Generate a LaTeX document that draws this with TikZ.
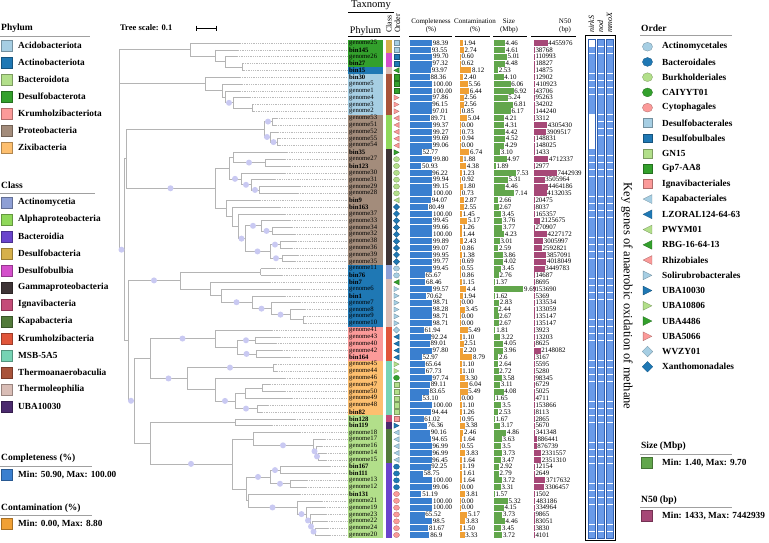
\documentclass[tikz,border=0pt]{standalone}
\usepackage{fontspec}
\setmainfont{Liberation Serif}
\definecolor{pAci}{HTML}{A6CEE3}\definecolor{pAct}{HTML}{1F78B4}\definecolor{pBac}{HTML}{B2DF8A}
\definecolor{pDes}{HTML}{33A02C}\definecolor{pKru}{HTML}{FB9A99}\definecolor{pPro}{HTML}{A38C7B}
\definecolor{pZix}{HTML}{FDBF6F}
\definecolor{cAct}{HTML}{8E9FD5}\definecolor{cAlp}{HTML}{8FD85A}\definecolor{cBac}{HTML}{6A44CC}
\definecolor{cDsb}{HTML}{D6B04A}\definecolor{cDbu}{HTML}{D44FCB}\definecolor{cGam}{HTML}{3E3436}
\definecolor{cIgn}{HTML}{C44C78}\definecolor{cKap}{HTML}{527A3A}\definecolor{cKru}{HTML}{E0553A}
\definecolor{cMSB}{HTML}{76D3B4}\definecolor{cTha}{HTML}{A8533A}\definecolor{cThl}{HTML}{D9BDB6}
\definecolor{cUBA}{HTML}{4B2A6E}
\definecolor{oLB}{HTML}{A6CEE3}\definecolor{oDB}{HTML}{1F78B4}\definecolor{oLG}{HTML}{B2DF8A}
\definecolor{oG}{HTML}{33A02C}\definecolor{oPK}{HTML}{FB9A99}
\definecolor{cpc}{HTML}{3A7FCF}\definecolor{ctc}{HTML}{F0A035}\definecolor{szc}{HTML}{62A64C}
\definecolor{nfc}{HTML}{A64877}\definecolor{hm}{HTML}{6A9BE8}\definecolor{hmd}{HTML}{2F5FB0}
\definecolor{trg}{HTML}{B4B4B4}\definecolor{bsc}{HTML}{C9C9F2}\definecolor{ulc}{HTML}{A0A0A0}
\def\osz{2.6}
\newcommand\osymc[3]{\filldraw[fill=#1,draw=#1!70!black,line width=.3pt] (#2,#3) ellipse [x radius=1.15*\osz pt, y radius=\osz pt];}
\newcommand\osyms[3]{\filldraw[fill=#1,draw=#1!70!black,line width=.3pt] ({#2-\osz},{#3-\osz}) rectangle ({#2+\osz},{#3+\osz});}
\newcommand\osyml[3]{\filldraw[fill=#1,draw=#1!70!black,line width=.3pt] ({#2-\osz},#3) -- ({#2+\osz},{#3-\osz}) -- ({#2+\osz},{#3+\osz}) -- cycle;}
\newcommand\osymr[3]{\filldraw[fill=#1,draw=#1!70!black,line width=.3pt] ({#2+\osz},#3) -- ({#2-\osz},{#3-\osz}) -- ({#2-\osz},{#3+\osz}) -- cycle;}
\newcommand\osymd[3]{\filldraw[fill=#1,draw=#1!70!black,line width=.3pt] (#2,{#3-1.2*\osz}) -- ({#2+1.2*\osz},#3) -- (#2,{#3+1.2*\osz}) -- ({#2-1.2*\osz},#3) -- cycle;}
\newcommand\ry[1]{(36.1667+6.8333*(#1))}
\newcommand\TTip[3]{\expandafter\xdef\csname TX#1\endcsname{#2}\expandafter\xdef\csname TY#1\endcsname{#3}%
  \draw[lead] (#2,{\ry{#3}}) -- (347,{\ry{#3}});}
\newcommand\TNode[3]{\xdef\ymn{1000}\xdef\ymx{-1000}%
  \foreach \ch in {#3}{\xdef\cy{\csname TY\ch\endcsname}\xdef\cx{\csname TX\ch\endcsname}%
    \expandafter\xdef\csname PX\ch\endcsname{#2}%
    \draw[br] (#2,{\ry{\cy}}) -- (\cx,{\ry{\cy}});%
    \xdef\ymn{\fpeval{min(\ymn,\cy)}}\xdef\ymx{\fpeval{max(\ymx,\cy)}}}%
  \draw[br] (#2,{\ry{\ymn}}) -- (#2,{\ry{\ymx}});%
  \expandafter\xdef\csname TX#1\endcsname{#2}%
  \expandafter\xdef\csname TY#1\endcsname{\fpeval{(\ymn+\ymx)/2}}}
\newcommand\TBoot[1]{\fill[bsc] ({(\csname TX#1\endcsname+\csname PX#1\endcsname)/2},{\ry{\csname TY#1\endcsname}}) circle (3pt);}
\begin{document}
\begin{tikzpicture}[x=1pt,y=-1pt,
  br/.style={draw=trg,line width=.6pt},
  lead/.style={draw=trg!90,line width=.35pt,dash pattern=on .5pt off 1.3pt},
  ul/.style={draw=ulc,line width=.5pt},
  lgh/.style={font=\fontsize{9.5}{10}\selectfont\bfseries,inner sep=0pt},
  lgt/.style={font=\fontsize{9.3}{10}\selectfont\bfseries,inner sep=0pt},
  val/.style={font=\fontsize{6.9}{7}\selectfont,inner sep=0pt,anchor=west},
  lab/.style={font=\fontsize{6.7}{7}\selectfont,inner sep=0pt,anchor=west},
  hdr/.style={font=\fontsize{7}{7}\selectfont,inner sep=0pt}]
\useasboundingbox (0,0) rectangle (769,542);
\fill[white] (0,0) rectangle (769,542);
% ---------------- tree ----------------
\foreach \r/\x in {1/240,2/238,3/237,4/243,5/244,6/240,7/242,8/240,9/250,10/253,11/254,12/277,13/276,14/278,15/280,16/280,17/287,18/285,19/290,20/285,21/275,22/300,23/298,24/260,25/280,26/285,27/290,28/292,29/295,30/296,31/292,32/298,33/295,34/275,35/282,36/270,37/300,38/285,39/300,40/305,41/305,42/306,43/272,44/280,45/276,46/282,47/290,48/276,49/277,50/285,51/270,52/285,53/292,54/268,55/262,56/295,57/272,58/300,59/325,60/322,61/326,62/326,63/330,64/330,65/307,66/306,67/300,68/322,69/325,70/326,71/327,72/328,73/330}{\TTip{t\r}{\x}{\r}}
\TNode{a45}{242}{t4,t5}\TNode{a35}{225}{t3,a45}\TNode{a25}{215}{t2,a35}\TNode{A}{190}{t1,a25}
\TNode{b1011}{252}{t10,t11}\TNode{b911}{233}{t9,b1011}\TNode{b811}{225}{t8,b911}\TNode{b711}{222}{t7,b811}\TNode{B}{205}{t6,b711}
\TNode{al1}{272}{t12,t13}\TNode{al4}{277}{t15,t16}\TNode{al3}{270}{t14,al4}\TNode{C}{264}{al1,al3}
\TNode{g1819}{265}{t18,t19}\TNode{g1719}{233}{t17,g1819}
\TNode{d22}{259}{t22,t23}\TNode{d21}{251}{t21,d22}\TNode{d20}{241}{t20,d21}\TNode{g1723}{229}{g1719,d20}
\TNode{x2829}{272}{t28,t29}\TNode{x2729}{261}{t27,x2829}\TNode{x3031}{280}{t30,t31}\TNode{x3233}{282}{t32,t33}\TNode{x3033}{270}{x3031,x3233}
\TNode{x2733}{245}{x2729,x3033}\TNode{x2633}{238}{t26,x2733}\TNode{x2533}{232}{t25,x2633}\TNode{g2433}{226}{t24,x2533}
\TNode{D}{215}{g1723,g2433}\TNode{P}{126}{C,D}
\TNode{e3435}{260.7}{t34,t35}\TNode{e4142}{303}{t41,t42}\TNode{e4042}{290}{t40,e4142}\TNode{e3942}{271}{t39,e4042}\TNode{e3842}{252}{t38,e3942}\TNode{e3742}{221}{t37,e3842}\TNode{e3642}{210}{t36,e3742}\TNode{E}{180}{e3435,e3642}
\TNode{k4445}{255}{t44,t45}\TNode{k4647}{256}{t46,t47}\TNode{k4447}{237}{k4445,k4647}\TNode{K}{215}{t43,k4447}
\TNode{z4849}{273}{t48,t49}\TNode{z5455}{257}{t54,t55}\TNode{z5152}{262}{t51,t52}\TNode{z5153}{245}{z5152,t53}\TNode{z5155}{235}{z5153,z5455}\TNode{z5055}{215}{t50,z5155}\TNode{Z}{187}{z4849,z5055}
\TNode{KZ}{150}{K,Z}
\TNode{h5657}{235}{t56,t57}
\TNode{k3}{318}{t61,t62}\TNode{k2}{316}{t60,k3}\TNode{k1}{313}{t59,k2}\TNode{k0}{253}{t58,k1}
\TNode{b6364}{280}{t63,t64}\TNode{b6566}{290}{t65,t66}\TNode{b6366}{270}{b6364,b6566}
\TNode{c7273}{315}{t72,t73}\TNode{c7173}{312}{t71,c7273}\TNode{c7073}{310}{t70,c7173}\TNode{c6973}{306}{t69,c7073}\TNode{c6873}{297}{t68,c6973}\TNode{c6773}{248}{t67,c6873}
\TNode{Bact}{246}{b6366,c6773}\TNode{Kb}{232}{k0,Bact}\TNode{Bd}{150}{h5657,Kb}
\TNode{L}{134}{KZ,Bd}\TNode{R}{128}{E,L}\TNode{N1}{124}{P,R}\TNode{Root}{119}{A,B,N1}
\foreach \q in {b911,al1,al3,al4,g1819,d20,d21,d22,x2829,x2729,x3031,x3233,x3033,x2733,D,E,e3842,e3942,e4042,K,k4445,k4647,Z,z4849,z5455,z5155,L,Kb,k1,k2,k3,b6364,b6566,b6366,c6873,c6973,c7073,c7173,c7273,N1}{\TBoot{\q}}
% tree scale
\node[font=\fontsize{8.5}{9}\selectfont\bfseries,inner sep=0pt,anchor=west] (tscale) at (120,28) {Tree scale: 0.1};
\coordinate (sb1) at (196,28);\coordinate (sb2) at (216,28);
\draw[line width=.5pt] (sb1) -- (sb2) (196,25.5) -- (196,30.5) (216,25.5) -- (216,30.5);
% ---------------- data rows ----------------
\foreach \n/\nm/\ph/\cl/\ot/\oc/\cp/\ct/\sz/\nf in {
1/genome25/pDes/cDsb/s/oLB/98.39/1.94/4.46/4455976,
2/\textbf{bin145}/pDes/cDsb/s/oLB/93.55/2.74/4.61/38768,
3/genome26/pDes/cDbu/s/oDB/99.70/0.60/5.01/110993,
4/\textbf{bin27}/pDes/cDbu/s/oDB/97.32/0.62/4.48/18827,
5/\textbf{bin15}/pAct/cThl/l/oG/93.97/8.12/2.53/14875,
6/\textbf{bin30}/pAci/cTha/s/oG/88.36/2.40/4.10/12902,
7/genome5/pAci/cTha/s/oG/100.00/5.56/6.06/410923,
8/genome1/pAci/cTha/s/oG/100.00/6.44/6.92/43706,
9/genome4/pAci/cTha/r/oPK/97.86/2.56/5.24/95263,
10/genome3/pAci/cTha/r/oPK/96.15/2.56/6.81/34202,
11/genome2/pAci/cTha/r/oPK/97.01/0.85/6.17/144240,
12/genome53/pPro/cAlp/l/oPK/89.71/5.04/4.21/3312,
13/genome51/pPro/cAlp/l/oPK/99.37/0.00/4.31/4305430,
14/genome52/pPro/cAlp/l/oPK/99.27/0.73/4.42/3909517,
15/genome55/pPro/cAlp/l/oPK/99.69/0.94/4.52/148831,
16/genome54/pPro/cAlp/l/oPK/99.06/0.00/4.29/148025,
17/\textbf{bin35}/pPro/cGam/r/oG/52.77/6.74/3.10/1433,
18/genome27/pPro/cGam/c/oLG/99.80/1.88/4.97/4712337,
19/\textbf{bin123}/pPro/cGam/c/oLG/50.93/4.38/1.89/2977,
20/genome30/pPro/cGam/c/oLG/96.22/1.23/7.53/7442939,
21/genome31/pPro/cGam/c/oLG/99.94/0.92/5.31/3505964,
22/genome29/pPro/cGam/c/oLG/99.15/1.80/4.46/4464186,
23/genome28/pPro/cGam/c/oLG/100.00/0.73/7.14/4132035,
24/\textbf{bin9}/pPro/cGam/l/oLG/94.07/2.87/2.66/20475,
25/\textbf{bin163}/pPro/cGam/d/oDB/80.49/2.55/2.67/8037,
26/genome37/pPro/cGam/d/oDB/100.00/1.45/3.45/165357,
27/genome33/pPro/cGam/d/oDB/99.45/5.17/3.76/2125675,
28/genome34/pPro/cGam/d/oDB/99.66/1.26/3.77/270907,
29/genome32/pPro/cGam/d/oDB/100.00/1.44/4.23/4227172,
30/genome38/pPro/cGam/d/oDB/99.89/2.43/3.01/3005997,
31/genome36/pPro/cGam/d/oDB/99.07/0.86/2.59/2592821,
32/genome39/pPro/cGam/d/oDB/99.95/1.38/3.86/3857091,
33/genome35/pPro/cGam/d/oDB/99.77/0.69/4.02/4018049,
34/genome11/pAct/cAct/c/oLB/99.45/0.55/3.45/3449783,
35/\textbf{bin76}/pAct/cAct/c/oLB/65.67/0.86/2.76/14687,
36/\textbf{bin7}/pAct/cThl/l/oG/68.46/1.15/1.37/8695,
37/genome6/pAct/cThl/r/oLB/99.57/4.4/9.69/153690,
38/\textbf{bin1}/pAct/cThl/r/oLB/70.62/1.94/1.62/5369,
39/genome7/pAct/cThl/r/oLB/98.71/0.00/2.83/133534,
40/genome8/pAct/cThl/r/oLB/98.28/3.45/2.44/133059,
41/genome9/pAct/cThl/r/oLB/98.71/0.00/2.67/135147,
42/genome10/pAct/cThl/r/oLB/98.71/0.00/2.67/135147,
43/genome41/pKru/cKru/d/oLB/61.94/5.49/1.81/3923,
44/genome43/pKru/cKru/l/oDB/92.24/1.10/3.22/13203,
45/genome40/pKru/cKru/l/oDB/89.01/2.51/4.05/8625,
46/genome42/pKru/cKru/l/oDB/97.80/2.20/3.96/2148082,
47/\textbf{bin164}/pKru/cKru/l/oDB/52.97/8.79/2.6/3167,
48/genome45/pZix/cMSB/r/oLG/65.64/1.10/2.64/5595,
49/genome44/pZix/cMSB/r/oLG/67.73/1.10/2.72/5280,
50/genome46/pZix/cMSB/c/oG/97.74/3.30/3.58/98345,
51/genome47/pZix/cMSB/s/oLG/89.11/6.04/3.11/6729,
52/genome50/pZix/cMSB/s/oLG/83.65/5.49/4.08/5025,
53/genome49/pZix/cMSB/s/oLG/53.10/0.00/1.65/4711,
54/genome48/pZix/cMSB/s/oLG/100.00/1.10/3.5/153866,
55/\textbf{bin82}/pZix/cMSB/s/oLG/94.44/1.26/2.53/8113,
56/\textbf{bin128}/pBac/cIgn/s/oPK/61.02/0.95/1.67/2865,
57/\textbf{bin119}/pBac/cUBA/r/oDB/76.36/3.38/3.17/5670,
58/genome18/pBac/cKap/l/oLB/90.16/2.46/4.86/341348,
59/genome17/pBac/cKap/l/oLB/94.65/1.64/3.63/886441,
60/genome16/pBac/cKap/l/oLB/96.99/0.55/3.5/876739,
61/genome14/pBac/cKap/l/oLB/96.99/3.83/3.73/2331557,
62/genome15/pBac/cKap/l/oLB/96.45/1.64/3.47/2351310,
63/\textbf{bin167}/pBac/cBac/c/oDB/92.25/1.19/2.92/12154,
64/\textbf{bin111}/pBac/cBac/c/oDB/58.75/1.61/2.79/2649,
65/genome13/pBac/cBac/c/oDB/100.00/1.64/3.72/3717632,
66/genome12/pBac/cBac/c/oDB/99.06/0.00/3.31/3306457,
67/\textbf{bin131}/pBac/cBac/c/oPK/51.19/3.81/1.57/1502,
68/genome21/pBac/cBac/c/oPK/100.00/0.00/5.32/483186,
69/genome19/pBac/cBac/c/oPK/100.00/0.00/4.15/334964,
70/genome23/pBac/cBac/c/oPK/65.52/5.17/3.73/9865,
71/genome22/pBac/cBac/c/oPK/98.5/3.83/4.46/83051,
72/genome24/pBac/cBac/c/oPK/81.67/1.50/3.45/3830,
73/genome20/pBac/cBac/c/oPK/86.9/3.33/3.72/4101}{
\pgfmathsetmacro\yy{36.1667+6.8333*\n}
\fill[\ph] (348,\yy-3.45) rectangle (383,\yy+3.45);
\node[lab] (nm\n) at (349,\yy) {\nm};
\fill[\cl] (386,\yy-3.45) rectangle (391.5,\yy+3.45);
\csname osym\ot\endcsname{\oc}{396.5}{\yy}
\pgfmathsetmacro\cpe{410+0.224*\cp}
\fill[cpc] (410,\yy-3) rectangle (\cpe,\yy+3);
\node[val] (cp\n) at (\cpe+0.6,\yy) {\cp};
\pgfmathsetmacro\cte{460+max(0.7,1.4*\ct)}
\fill[ctc] (460,\yy-3) rectangle (\cte,\yy+3);
\node[val] (ct\n) at (\cte+0.6,\yy) {\ct};
\pgfmathsetmacro\sze{494+max(0.7,3.55*(\sz-1.4))}
\fill[szc] (494,\yy-3) rectangle (\sze,\yy+3);
\node[val] (sz\n) at (\sze+0.6,\yy) {\sz};
\edef\nfe{\fpeval{534+max(0.7,22.7*\nf/7442939)}}
\fill[nfc] (534,\yy-3) rectangle (\nfe,\yy+3);
\node[val] (nf\n) at (\nfe+0.6,\yy) {\nf};
\foreach \gx in {588,597,606}{\fill[hm] (\gx,\yy-3.1) rectangle (\gx+7,\yy+3.1);}
}
% white heatmap cells
\foreach \n in {1,12,13,14,15,16}{\pgfmathsetmacro\yy{36.1667+6.8333*\n}
  \fill[white] (588,\yy-3.1) rectangle (595,\yy+3.1);}
\foreach \gx in {588,597,606}{\draw[hmd,line width=.35pt] (\gx,39.2) rectangle (\gx+7,535.3+3.1);}
\draw[line width=.6pt] (585.5,35.5) rectangle (615.5,540);
% ---------------- headers ----------------
\node[font=\fontsize{10.5}{11}\selectfont,inner sep=0pt] (htax) at (371,5) {Taxnomy};
\draw[line width=.6pt] (348,12) -- (394,12);
\node[font=\fontsize{10}{11}\selectfont,inner sep=0pt] (hphy) at (365.5,31) {Phylum};
\node[font=\fontsize{8}{9}\selectfont,inner sep=0pt,rotate=90,anchor=west] (hcls) at (389,33) {Class};
\node[font=\fontsize{8}{9}\selectfont,inner sep=0pt,rotate=90,anchor=west] (hord) at (397.5,33) {Order};
\draw[line width=.6pt] (348,36) -- (400,36);
\node[hdr] (hcp1) at (431,21.5) {Completeness};\node[hdr] (hcp2) at (431,30) {(\%)};
\draw[line width=.6pt] (409,36) -- (452,36);
\node[hdr] (hct1) at (475,21.5) {Contamination};\node[hdr] (hct2) at (475,30) {(\%)};
\draw[line width=.6pt] (455,36) -- (490,36);
\node[hdr] (hsz1) at (509,21.5) {Size};\node[hdr] (hsz2) at (509,30) {(Mbp)};
\draw[line width=.6pt] (493,36) -- (527,36);
\node[hdr] (hnf1) at (565,21.5) {N50};\node[hdr] (hnf2) at (565,30) {(bp)};
\draw[line width=.6pt] (531,36) -- (576,36);
\foreach \gx/\gn in {591.5/nirkS,600.5/nod,609.5/mmoX}{
  \node[font=\fontsize{8}{9}\selectfont\itshape,inner sep=0pt,rotate=90,anchor=west] (g\gn) at (\gx,33) {\gn};}
\node[font=\fontsize{12.5}{14}\selectfont,inner sep=0pt,rotate=-90] (keytxt) at (627,296) {Key genes of anaerobic oxidation of methane};
% ---------------- left legends ----------------
\node[lgh,anchor=west] (lphy) at (1,28) {Phylum};\draw[ul] (0,36) -- (90,36);
\foreach \nmm/\cc [count=\i] in {Acidobacteriota/pAci,Actinobacteriota/pAct,Bacteroidota/pBac,Desulfobacterota/pDes,Krumholzibacteriota/pKru,Proteobacteria/pPro,Zixibacteria/pZix}{
  \pgfmathsetmacro\ly{45.7+17*(\i-1)}
  \filldraw[fill=\cc,draw=\cc!70!black,line width=.3pt] (1.5,\ly-5.5) rectangle (12.5,\ly+5.5);
  \node[lgt,anchor=west] (lp\i) at (18,\ly) {\nmm};}
\node[lgh,anchor=west] (lcls) at (1,185) {Class};\draw[ul] (0,193) -- (95,193);
\foreach \nmm/\cc [count=\i] in {Actinomycetia/cAct,Alphaproteobacteria/cAlp,Bacteroidia/cBac,Desulfobacteria/cDsb,Desulfobulbia/cDbu,Gammaproteobacteria/cGam,Ignavibacteria/cIgn,Kapabacteria/cKap,Krumholzibacteria/cKru,MSB-5A5/cMSB,Thermoanaerobaculia/cTha,Thermoleophilia/cThl,UBA10030/cUBA}{
  \pgfmathsetmacro\ly{202.7+17*(\i-1)}
  \filldraw[fill=\cc,draw=\cc!70!black,line width=.3pt] (1.5,\ly-5.5) rectangle (12.5,\ly+5.5);
  \node[lgt,anchor=west] (lc\i) at (18,\ly) {\nmm};}
\node[lgh,anchor=west] (lcp) at (1,458.7) {Completeness (\%)};\draw[ul] (0,466) -- (92,466);
\filldraw[fill=cpc,draw=cpc!70!black,line width=.3pt] (1.5,469.5) rectangle (12.5,480.5);
\node[lgt,anchor=west] (lcpv) at (18,475) {Min: 50.90, Max: 100.00};
\node[lgh,anchor=west] (lct) at (1,508) {Contamination (\%)};\draw[ul] (0,515.7) -- (92,515.7);
\filldraw[fill=ctc,draw=ctc!70!black,line width=.3pt] (1.5,518.5) rectangle (12.5,529.5);
\node[lgt,anchor=west] (lctv) at (18,524) {Min: 0.00, Max: 8.80};
% ---------------- right legends ----------------
\node[lgh,anchor=west] (lord) at (641,28) {Order};\draw[ul] (640,35) -- (732,35);
\def\osz{4.4}
\foreach \ot/\oc/\nmm [count=\i] in {c/oLB/Actinomycetales,c/oDB/Bacteroidales,c/oLG/Burkholderiales,c/oG/CAIYYT01,c/oPK/Cytophagales,s/oLB/Desulfobacterales,s/oDB/Desulfobulbales,s/oLG/GN15,s/oG/Gp7-AA8,s/oPK/Ignavibacteriales,l/oLB/Kapabacteriales,l/oDB/LZORAL124-64-63,l/oLG/PWYM01,l/oG/RBG-16-64-13,l/oPK/Rhizobiales,r/oLB/Solirubrobacterales,r/oDB/UBA10030,r/oLG/UBA10806,r/oG/UBA4486,r/oPK/UBA5066,d/oLB/WVZY01,d/oDB/Xanthomonadales}{
  \pgfmathsetmacro\ly{46.7+15.24*(\i-1)}
  \csname osym\ot\endcsname{\oc}{647.5}{\ly}
  \node[lgt,anchor=west] (lo\i) at (662,\ly) {\nmm};}
\node[lgh,anchor=west] (lsz) at (641,446.7) {Size (Mbp)};\draw[ul] (640,454) -- (732,454);
\filldraw[fill=szc,draw=szc!70!black,line width=.3pt] (641.5,457.2) rectangle (652.5,468.2);
\node[lgt,anchor=west] (lszv) at (662,462.7) {Min: 1.40, Max: 9.70};
\node[lgh,anchor=west] (lnf) at (641,500) {N50 (bp)};\draw[ul] (640,507.5) -- (732,507.5);
\filldraw[fill=nfc,draw=nfc!70!black,line width=.3pt] (641.5,510.5) rectangle (652.5,521.5);
\node[lgt,anchor=west] (lnfv) at (662,516) {Min: 1433, Max: 7442939};
\end{tikzpicture}
\end{document}
